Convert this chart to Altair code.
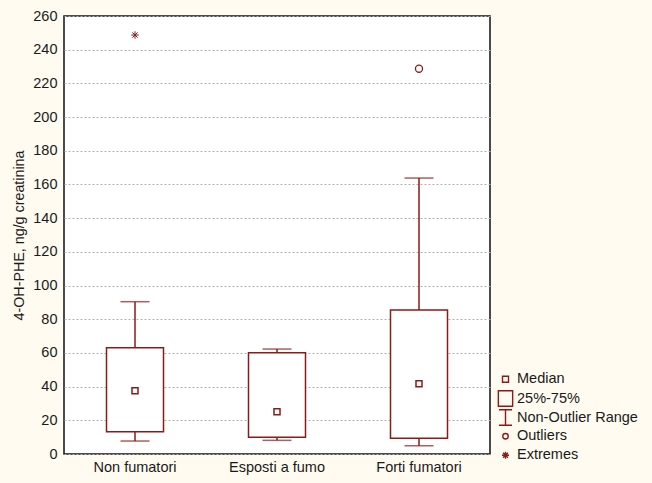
import altair as alt
import pandas as pd

groups = ["Non fumatori", "Esposti a fumo", "Forti fumatori"]
whisker_low = [7.7, 8.1, 4.9]
q1 = [13.2, 9.9, 9.3]
median = [37.6, 25.1, 41.7]
q3 = [63.1, 60.1, 85.5]
whisker_high = [90.4, 62.3, 163.8]
outlier_groups = ["Forti fumatori"]
outlier_values = [228.7]
extreme_groups = ["Non fumatori"]
extreme_values = [248.7]
legend_labels = ["Median", "25%-75%", "Non-Outlier Range", "Outliers", "Extremes"]
y_ticks = list(range(0, 261, 20))

RED = "#8b1a1a"
FONT = "Liberation Sans"
TXT = "#1a1a1a"
FS = 14.5
ASTERISK = "M-1,0H1M0,-1V1M-0.7,-0.7L0.7,0.7M-0.7,0.7L0.7,-0.7"
BOXPATH = "M-1.1,-1.2H1.1V1.2H-1.1Z"
IBEAM = "M-1,-1.2H1M0,-1.2V1.2M-1,1.2H1"

box_df = pd.DataFrame({
    "group": groups, "lo": whisker_low, "q1": q1, "med": median,
    "q3": q3, "hi": whisker_high,
})
out_df = pd.DataFrame({"group": outlier_groups, "value": outlier_values})
ext_df = pd.DataFrame({"group": extreme_groups, "value": extreme_values})
leg_df = pd.DataFrame({"group": [groups[0]] * 5, "kind": legend_labels,
                       "value": [0] * 5})

xenc = alt.X("group:N", sort=groups,
             scale=alt.Scale(domain=groups, paddingInner=0, paddingOuter=0),
             axis=alt.Axis(title=None, labelAngle=0, ticks=False, domain=False,
                           labelPadding=6, labelFontSize=FS, labelFont=FONT,
                           labelColor=TXT))
yscale = alt.Scale(domain=[0, 260], nice=False, zero=True)
yaxis = alt.Axis(values=y_ticks, grid=True, gridDash=[2, 2], gridColor="#b0b0b0",
                 gridWidth=1, ticks=False, domain=False, labelPadding=7,
                 labelOverlap=False, labelFontSize=FS, labelFont=FONT,
                 labelColor=TXT, title="4-OH-PHE, ng/g creatinina",
                 titleFont=FONT, titleFontSize=14.3, titleFontWeight="normal",
                 titleColor=TXT, titlePadding=6)


def Y(field):
    return alt.Y(field, scale=yscale, axis=yaxis)


whisk = alt.Chart(box_df).mark_rule(color=RED, strokeWidth=1.5).encode(
    x=xenc, y=Y("lo:Q"), y2="hi:Q")
cap_lo = alt.Chart(box_df).mark_tick(color=RED, size=29, thickness=1.5,
                                     orient="horizontal").encode(x=xenc, y=Y("lo:Q"))
cap_hi = alt.Chart(box_df).mark_tick(color=RED, size=29, thickness=1.5,
                                     orient="horizontal").encode(x=xenc, y=Y("hi:Q"))
box = alt.Chart(box_df).mark_bar(size=57, fill="white", stroke=RED,
                                 strokeWidth=1.5).encode(x=xenc, y=Y("q1:Q"), y2="q3:Q")
med = alt.Chart(box_df).mark_point(shape="square", size=36, fill="white",
                                   stroke=RED, strokeWidth=1.5, opacity=1,
                                   filled=True).encode(x=xenc, y=Y("med:Q"))
outl = alt.Chart(out_df).mark_point(shape="circle", size=50, stroke=RED,
                                    fill=None, strokeWidth=1.3, opacity=1).encode(
    x=xenc, y=Y("value:Q"))
ext = alt.Chart(ext_df).mark_point(shape=ASTERISK, size=56, stroke=RED,
                                   strokeWidth=1, opacity=1).encode(
    x=xenc, y=Y("value:Q"))

legend = alt.Chart(leg_df).mark_point(filled=False, color=RED, opacity=1,
                                      strokeWidth=1.5).encode(
    x=xenc, y=Y("value:Q"),
    shape=alt.Shape("kind:N", scale=alt.Scale(
        domain=legend_labels,
        range=["square", BOXPATH, IBEAM, "circle", ASTERISK]),
        legend=alt.Legend(title=None, orient="none", legendX=434, legendY=356,
                          labelFont=FONT, labelFontSize=FS, labelColor=TXT,
                          symbolStrokeColor=RED, symbolFillColor="transparent",
                          symbolStrokeWidth=1.4, rowPadding=-4, labelOffset=4,
                          gridAlign="all", padding=0)),
    size=alt.Size("kind:N", scale=alt.Scale(type="ordinal", domain=legend_labels,
                                            range=[36, 169, 169, 30, 49]),
                  legend=alt.Legend(title=None, orient="none", legendX=434,
                                    legendY=356)),
).transform_filter("datum.value > 1000")

chart = alt.layer(whisk, box, cap_lo, cap_hi, med, outl, ext, legend).properties(
    width=426, height=438,
    autosize=alt.AutoSizeParams(type="none"),
    padding={"left": 64, "top": 16, "right": 162, "bottom": 29},
    background="#fffbf0",
).configure_view(fill="white", stroke="#111111", strokeWidth=1.5)

chart.save("out.html", embed_options={"renderer": "svg", "actions": False})
